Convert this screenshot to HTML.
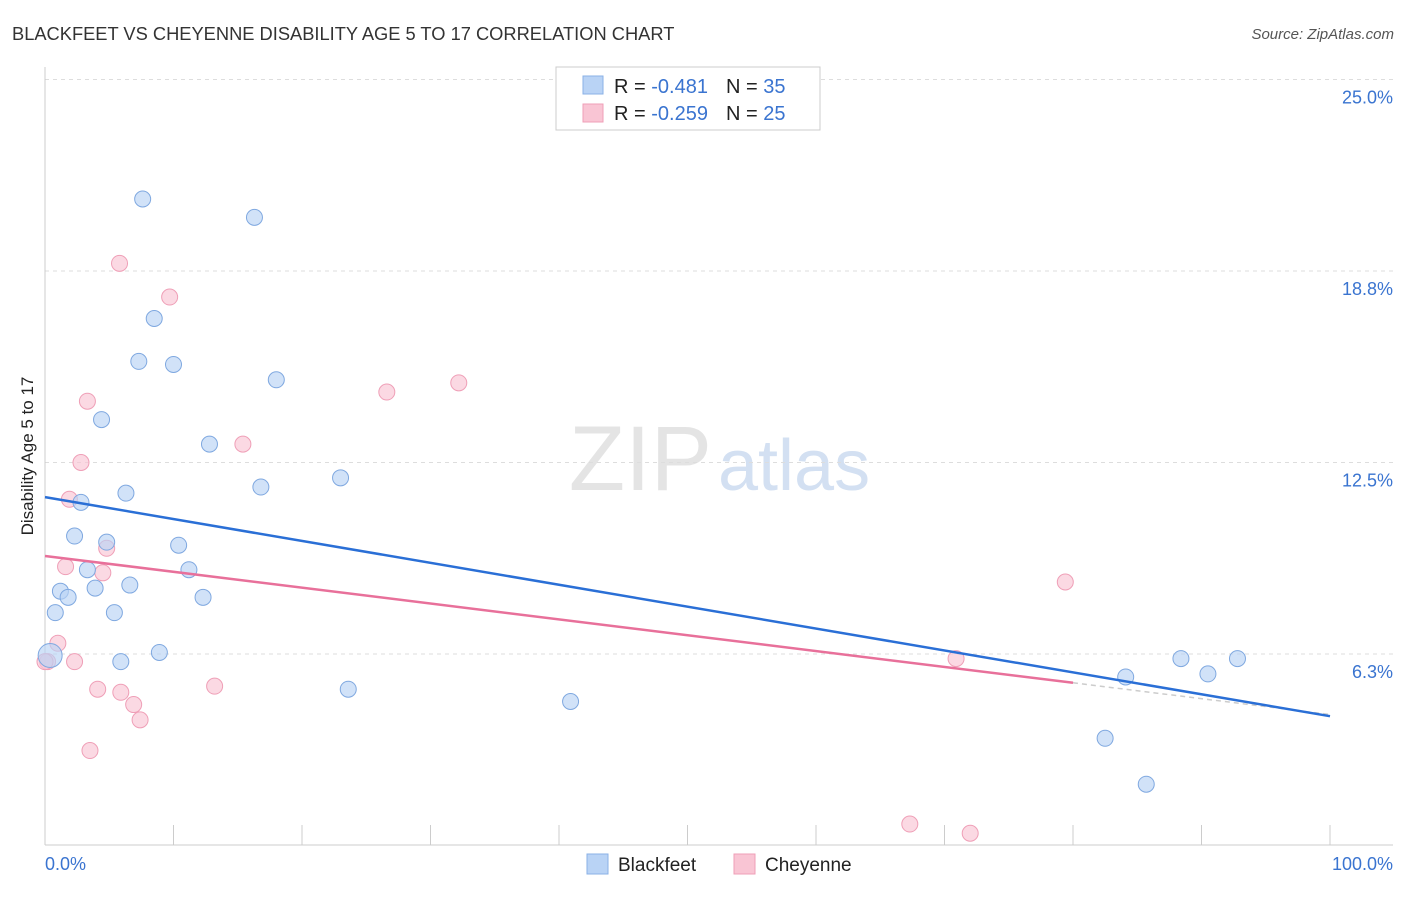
<!DOCTYPE html>
<html><head><meta charset="utf-8"><style>
body{margin:0;background:#fff;font-family:"Liberation Sans",sans-serif}
svg text{font-family:"Liberation Sans",sans-serif}
</style></head><body>
<svg width="1406" height="892" xmlns="http://www.w3.org/2000/svg">
<text x="12" y="40" font-size="18.3" fill="#333">BLACKFEET VS CHEYENNE DISABILITY AGE 5 TO 17 CORRELATION CHART</text>
<text x="1394" y="39" font-size="15" fill="#555" text-anchor="end" font-style="italic">Source: ZipAtlas.com</text>
<text x="712" y="490" font-size="92" fill="#e4e4e4" text-anchor="end" font-family="Liberation Serif">ZIP</text>
<text x="718" y="490" font-size="72" fill="#d3e0f2">atlas</text>
<g id="grid"></g>
<line x1="45" y1="67" x2="45" y2="845" stroke="#ccc"/>
<line x1="45" y1="845" x2="1393" y2="845" stroke="#ccc"/>
<text x="33" y="456" font-size="17" fill="#222" text-anchor="middle" transform="rotate(-90 33 456)">Disability Age 5 to 17</text>
<text x="45" y="870" font-size="18" fill="#3a74d0">0.0%</text>
<text x="1393" y="870" font-size="18" fill="#3a74d0" text-anchor="end">100.0%</text>
<g id="pts"></g>
<g id="lines"></g>
<g>
<rect x="556" y="67" width="264" height="63" fill="#fff" stroke="#ccc"/>
<rect x="583" y="76" width="20" height="18" fill="#b9d3f5" stroke="#8ab0e6"/>
<rect x="583" y="104" width="20" height="18" fill="#f9c5d4" stroke="#ef9fb7"/>
<text x="614" y="93" font-size="20" fill="#222">R = <tspan fill="#3a74d0">-0.481</tspan><tspan dx="18">N = </tspan><tspan fill="#3a74d0">35</tspan></text>
<text x="614" y="120" font-size="20" fill="#222">R = <tspan fill="#3a74d0">-0.259</tspan><tspan dx="18">N = </tspan><tspan fill="#3a74d0">25</tspan></text>
</g>
<g>
<rect x="587" y="854" width="21" height="20" fill="#b9d3f5" stroke="#8ab0e6"/>
<text x="618" y="871" font-size="19" fill="#222">Blackfeet</text>
<rect x="734" y="854" width="21" height="20" fill="#f9c5d4" stroke="#ef9fb7"/>
<text x="765" y="871" font-size="19" fill="#222">Cheyenne</text>
</g>
</svg>
<script>
const yTicks=[25,18.75,12.5,6.25];
const yTickLabels=["25.0%","18.8%","12.5%","6.3%"];
const xTicks=[0,10,20,30,40,50,60,70,80,90,100];
const blackX=[7.6,16.3,8.5,7.3,10.0,18.0,4.4,12.8,6.3,16.8,23.0,2.8,2.3,4.8,10.4,3.3,11.2,6.6,3.9,1.2,1.8,12.3,0.8,5.4,8.9,5.9,0.4,23.6,40.9,84.1,88.4,90.5,92.8,82.5,85.7];
const blackY=[21.1,20.5,17.2,15.8,15.7,15.2,13.9,13.1,11.5,11.7,12.0,11.2,10.1,9.9,9.8,9.0,9.0,8.5,8.4,8.3,8.1,8.1,7.6,7.6,6.3,6.0,6.2,5.1,4.7,5.5,6.1,5.6,6.1,3.5,2.0];
const cheyX=[5.8,9.7,3.3,26.6,32.2,15.4,2.8,1.9,4.8,1.6,4.5,79.4,1.0,0.2,2.3,70.9,4.1,5.9,13.2,6.9,7.4,3.5,67.3,72.0,0.0];
const cheyY=[19.0,17.9,14.5,14.8,15.1,13.1,12.5,11.3,9.7,9.1,8.9,8.6,6.6,6.0,6.0,6.1,5.1,5.0,5.2,4.6,4.1,3.1,0.7,0.4,6.0];
const blueTrend=[11.37,4.22];
const pinkTrend=[9.45,5.31];
const pinkEnd=80;
const X=v=>45+v*12.85, Y=v=>845.5-v*30.64;
const NS="http://www.w3.org/2000/svg";
function mk(t,a,p){const e=document.createElementNS(NS,t);for(const k in a)e.setAttribute(k,a[k]);p.appendChild(e);return e;}
const g=document.getElementById('grid');
yTicks.forEach((v,i)=>{
 const l=mk('line',{x1:45,x2:1393,y1:Y(v),y2:Y(v),stroke:'#ddd','stroke-dasharray':'4,4'},g);
 
 
 const t=mk('text',{x:1393,y:Y(v)+24,'font-size':18,fill:'#3a74d0','text-anchor':'end'},g);
 t.textContent=yTickLabels[i];
 
 
});
xTicks.forEach(v=>{
 const l=mk('line',{x1:X(v),x2:X(v),y1:825,y2:845,stroke:'#ccc'},g);
 
 
});
const p=document.getElementById('pts');
cheyX.forEach((v,i)=>{
 const c=mk('circle',{cx:X(v),cy:Y(cheyY[i]),r:8,fill:'#f9c5d4','fill-opacity':0.65,stroke:'#ef9fb7'},p);
 
 
});
blackX.forEach((v,i)=>{
 const c=mk('circle',{cx:X(v),cy:Y(blackY[i]),r:i==26?12:8,fill:'#b9d3f5','fill-opacity':0.65,stroke:'#7fa8e0'},p);
 
 
});
const L=document.getElementById('lines');
const pb=v=>pinkTrend[0]+(pinkTrend[1]-pinkTrend[0])*v/pinkEnd;
let d=mk('line',{x1:X(pinkEnd),y1:Y(pb(pinkEnd)),x2:X(100),y2:Y(pb(100)),stroke:'#ccc','stroke-dasharray':'5,4','stroke-width':1.5},L);


let b=mk('line',{x1:X(0),y1:Y(blueTrend[0]),x2:X(100),y2:Y(blueTrend[1]),stroke:'#2a6fd6','stroke-width':2.5},L);


let k=mk('line',{x1:X(0),y1:Y(pinkTrend[0]),x2:X(pinkEnd),y2:Y(pinkTrend[1]),stroke:'#e8709a','stroke-width':2.5},L);


</script>
</body></html>
